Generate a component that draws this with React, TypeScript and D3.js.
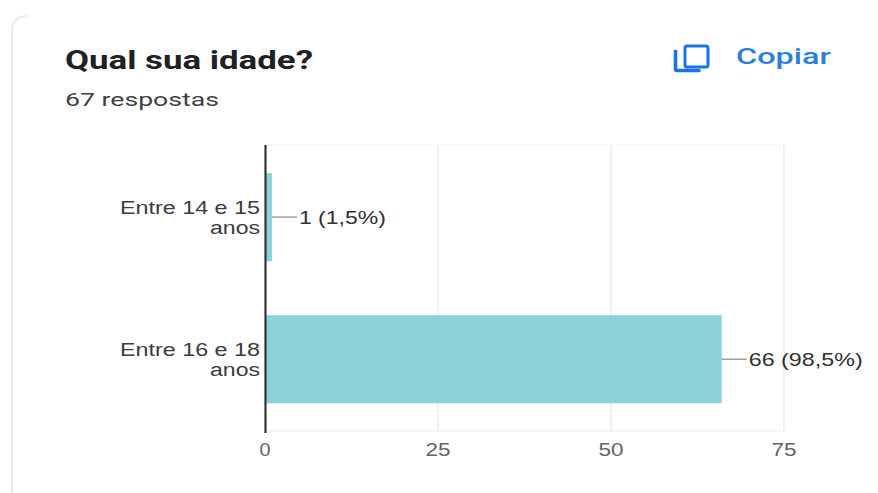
import React from "react";
import * as d3 from "d3";

const categories = ["Entre 14 e 15|anos", "Entre 16 e 18|anos"];
const counts = [1, 66];
const shares = ["1,5%", "98,5%"];
const xTicks = [0, 25, 50, 75];

const WIDTH = 878;
const HEIGHT = 493;
const plot = { left: 265, right: 784, top: 145, bottom: 431 };
const SANS = "'Liberation Sans', Arial, sans-serif";

export default function App() {
  const x = d3.scaleLinear().domain([0, 75]).range([plot.left, plot.right]);
  const y = d3
    .scaleBand<string>()
    .domain(categories)
    .range([plot.top + 0.4, plot.bottom])
    .paddingInner(0.38)
    .paddingOuter(0.195);

  return (
    <svg
      width={WIDTH}
      height={HEIGHT}
      viewBox={`0 0 ${WIDTH} ${HEIGHT}`}
      style={{ position: "absolute", left: 0, top: 0, display: "block", background: "#fff" }}
    >
      {/* Card outline: only the left edge and its rounded corner are visible */}
      <path d="M12 493 V30 Q12 17 27 16" fill="none" stroke="#e2ecec" strokeWidth={2} />

      <text x={65} y={69} fontFamily="Roboto, sans-serif" fontWeight={700} fontSize={25} fill="#202124" textLength={248} lengthAdjust="spacingAndGlyphs">
        Qual sua idade?
      </text>
      <text x={65} y={106} fontFamily="Roboto, sans-serif" fontSize={19} fill="#3c4043" textLength={154} lengthAdjust="spacingAndGlyphs">
        67 respostas
      </text>

      {/* Copy icon and link */}
      <g fill="none" stroke="#1a73e8" strokeWidth={3}>
        <rect x={685} y={46} width={23} height={21} rx={2} />
        <path d="M675.5 50 V69 Q675.5 70.5 677 70.5 H700.5" strokeWidth={3.6} />
      </g>
      <text x={736} y={64} fontFamily="Roboto, sans-serif" fontWeight={500} fontSize={22} fill="#2a7de1" textLength={95} lengthAdjust="spacingAndGlyphs">
        Copiar
      </text>

      {/* Plot frame and vertical gridlines */}
      <line x1={plot.left} x2={plot.right} y1={plot.top} y2={plot.top} stroke="#f3f3f3" />
      <line x1={plot.left} x2={plot.right + 1} y1={plot.bottom} y2={plot.bottom} stroke="#ececec" />
      {xTicks.slice(1).map((t) => (
        <line key={t} x1={x(t)} x2={x(t)} y1={plot.top} y2={plot.bottom} stroke="#ececec" strokeWidth={1.6} />
      ))}

      {/* Bars with leader lines and value labels */}
      {categories.map((c, i) => {
        const top = y(c)!;
        const mid = top + y.bandwidth() / 2;
        const end = x(counts[i]);
        return (
          <g key={c}>
            <rect x={x(0)} y={top} width={end - x(0)} height={y.bandwidth()} fill="#8dd1d9" />
            <line x1={end} x2={end + 25} y1={mid} y2={mid} stroke="#a0a0a0" strokeWidth={1.5} />
            <text x={end + 27} y={mid + 6.5} fontFamily={SANS} fontSize={18.5} fill="#303134" textLength={i === 0 ? 87 : 114} lengthAdjust="spacingAndGlyphs">
              {`${counts[i]} (${shares[i]})`}
            </text>
            {c.split("|").map((line, k) => (
              <text key={line} x={260} y={mid - 3.5 + k * 20} textAnchor="end" fontFamily={SANS} fontSize={18} fill="#3c3c3c" textLength={k === 0 ? 140 : 50} lengthAdjust="spacingAndGlyphs">
                {line}
              </text>
            ))}
          </g>
        );
      })}

      {/* Baseline on top of the bars */}
      <line x1={plot.left + 0.5} x2={plot.left + 0.5} y1={plot.top} y2={plot.bottom + 2} stroke="#333" strokeWidth={2.2} />

      {xTicks.map((t) => (
        <text key={t} x={x(t)} y={456} textAnchor="middle" fontFamily={SANS} fontSize={18} fill="#5f6368" textLength={t === 0 ? 11 : 25} lengthAdjust="spacingAndGlyphs">
          {t}
        </text>
      ))}
    </svg>
  );
}
